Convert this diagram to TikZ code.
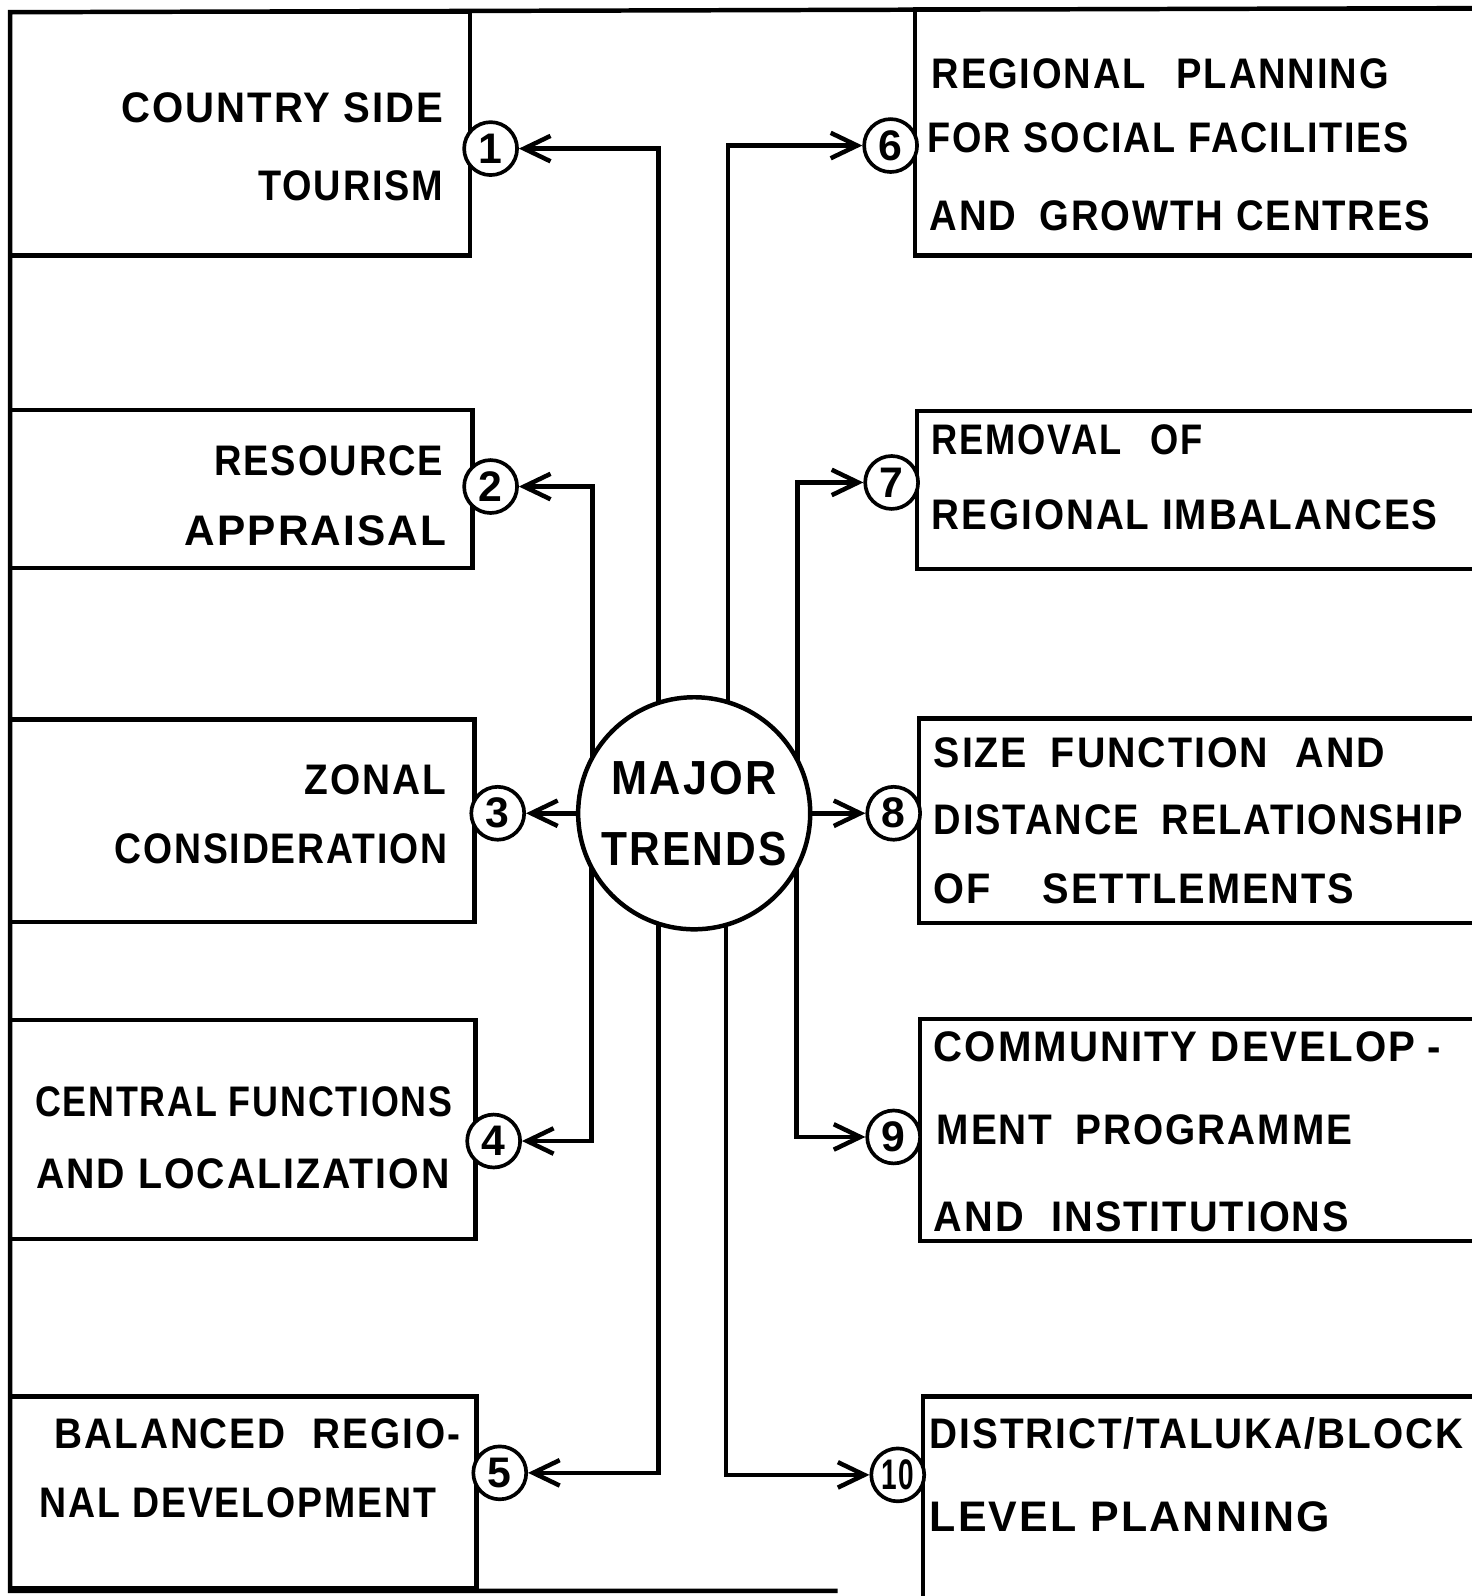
\documentclass[tikz,border=0pt]{standalone}
\usepackage{fontspec}
\usepackage{graphicx}
\setmainfont{Liberation Sans}[LetterSpace=5]
\usetikzlibrary{arrows.meta,fit}

% set a line of lettering to a given width, keeping its height
\newcommand\fitw[2]{\resizebox{#1}{\height}{#2}}
% wider gap between words
\newcommand\wg[1]{\hspace{#1em}}

\begin{document}
\begin{tikzpicture}[x=0.5pt,y=-0.5pt,
  ink/.style={line width=2.2pt},
  box/.style={draw, line width=2.2pt, inner sep=0pt, outer sep=0pt},
  lettering/.style={inner sep=0pt, font=\bfseries\fontsize{21pt}{25pt}\selectfont},
  num/.style={circle, draw, line width=1.8pt, fill=white, minimum size=26pt,
    inner sep=0pt, font=\bfseries\fontsize{21pt}{24pt}\selectfont},
  hub/.style={circle, draw, line width=2.2pt, fill=white, minimum size=114pt,
    inner sep=0pt, outer sep=0pt, align=center,
    font=\bfseries\fontsize{23.5pt}{35pt}\selectfont},
  conn/.style={line width=2.2pt, -{Straight Barb[length=13pt,width=12.5pt]}},
  ]
\useasboundingbox (0,0) rectangle (1446,1568);
\fill[white] (0,0) rectangle (1446,1568);
\clip (0,0) rectangle (1446,1568);

% outer frame
\draw[ink] (1446,8) -- (10,12) -- (10,1563) -- (823,1563);

% left column of boxes
\node[box, fit={(10,12) (462,251)}] (b1) {};
\node[box, fit={(10,403) (464,558)}] (b2) {};
\node[box, fit={(10,707) (466,906)}] (b3) {};
\node[box, fit={(10,1002) (467,1217)}] (b4) {};
\node[box, fit={(10,1372) (468,1560)}] (b5) {};

% right column of boxes (run off the right edge)
\node[box, fit={(899,9) (1475,251)}] (b6) {};
\node[box, fit={(901,404) (1475,559)}] (b7) {};
\node[box, fit={(903,706) (1475,907)}] (b8) {};
\node[box, fit={(904,1001) (1475,1219)}] (b9) {};
\node[box, fit={(907,1372) (1475,1610)}] (b10) {};

% lettering, left boxes
\node[lettering, anchor=base east] (t1a) at (436,120) {\fitw{158pt}{COUNTRY SIDE}};
\node[lettering, anchor=base east] (t1b) at (436,197) {\fitw{91pt}{TOURISM}};
\node[lettering, anchor=base east] (t2a) at (436,467) {\fitw{112.5pt}{RESOURCE}};
\node[lettering, anchor=base east] (t2b) at (439,536) {\fitw{128.5pt}{APPRAISAL}};
\node[lettering, anchor=base east] (t3a) at (439,781) {\fitw{69.5pt}{ZONAL}};
\node[lettering, anchor=base east] (t3b) at (440,848) {\fitw{163.5pt}{CONSIDERATION}};
\node[lettering, anchor=base east] (t4a) at (445,1097) {\fitw{205pt}{CENTRAL FUNCTIONS}};
\node[lettering, anchor=base east] (t4b) at (442,1168) {\fitw{203pt}{AND LOCALIZATION}};
\node[lettering, anchor=base east] (t5a) at (453,1423) {\fitw{199.5pt}{BALANCED\wg{0.7}REGIO-}};
\node[lettering, anchor=base east] (t5b) at (429,1491) {\fitw{195pt}{NAL DEVELOPMENT}};

% lettering, right boxes
\node[lettering, anchor=base west] (t6a) at (915,87) {\fitw{224.5pt}{REGIONAL\wg{0.8}PLANNING}};
\node[lettering, anchor=base west] (t6b) at (911,150) {\fitw{236.5pt}{FOR SOCIAL FACILITIES}};
\node[lettering, anchor=base west] (t6c) at (913,226) {\fitw{246pt}{AND\wg{0.6}GROWTH CENTRES}};
\node[lettering, anchor=base west] (t7a) at (915,447) {\fitw{133pt}{REMOVAL\wg{0.8}OF}};
\node[lettering, anchor=base west] (t7b) at (915,520) {\fitw{248.5pt}{REGIONAL IMBALANCES}};
\node[lettering, anchor=base west] (t8a) at (917,754) {\fitw{221.75pt}{SIZE\wg{0.6}FUNCTION\wg{0.7}AND}};
\node[lettering, anchor=base west] (t8b) at (917,820) {\fitw{260pt}{DISTANCE\wg{0.6}RELATIONSHIP}};
\node[lettering, anchor=base west] (t8c) at (917,888) {\fitw{206.5pt}{OF\wg{1.3}SETTLEMENTS}};
\node[lettering, anchor=base west] (t9a) at (917,1043) {\fitw{249pt}{COMMUNITY DEVELOP\wg{0.3}-}};
\node[lettering, anchor=base west] (t9b) at (920,1124) {\fitw{204pt}{MENT\wg{0.6}PROGRAMME}};
\node[lettering, anchor=base west] (t9c) at (917,1210) {\fitw{204pt}{AND\wg{0.7}INSTITUTIONS}};
\node[lettering, anchor=base west] (t10a) at (913,1423) {\fitw{262pt}{DISTRICT/TALUKA/BLOCK}};
\node[lettering, anchor=base west] (t10b) at (913,1505) {\fitw{196.5pt}{LEVEL PLANNING}};

% central hub
\node[hub] (mt) at (682,799) {\fitw{81pt}{MAJOR}\\\fitw{91pt}{TRENDS}};

% numbered markers
\node[num] (c1) at (482,146) {1};
\node[num] (c2) at (482,478) {2};
\node[num] (c3) at (489,799) {3};
\node[num] (c4) at (485,1121) {4};
\node[num] (c5) at (491,1447) {5};
\node[num] (c6) at (875,143) {6};
\node[num] (c7) at (876,474) {7};
\node[num] (c8) at (878,799) {8};
\node[num] (c9) at (878,1117) {9};
\node[num] (c10) at (882,1449) {\fitw{16pt}{10}};

% connectors from the hub
\draw[conn] (mt.108) |- (c1);
\draw[conn] (mt.151.3) |- (c2);
\draw[conn] (mt) -- (c3);
\draw[conn] (mt.208.7) |- (c4);
\draw[conn] (mt.252) |- (c5);
\draw[conn] (mt.73.2) |- (c6);
\draw[conn] (mt.27.6) |- (c7);
\draw[conn] (mt) -- (c8);
\draw[conn] (mt.332.4) |- (c9);
\draw[conn] (mt.286.8) |- (c10);
\end{tikzpicture}
\end{document}
